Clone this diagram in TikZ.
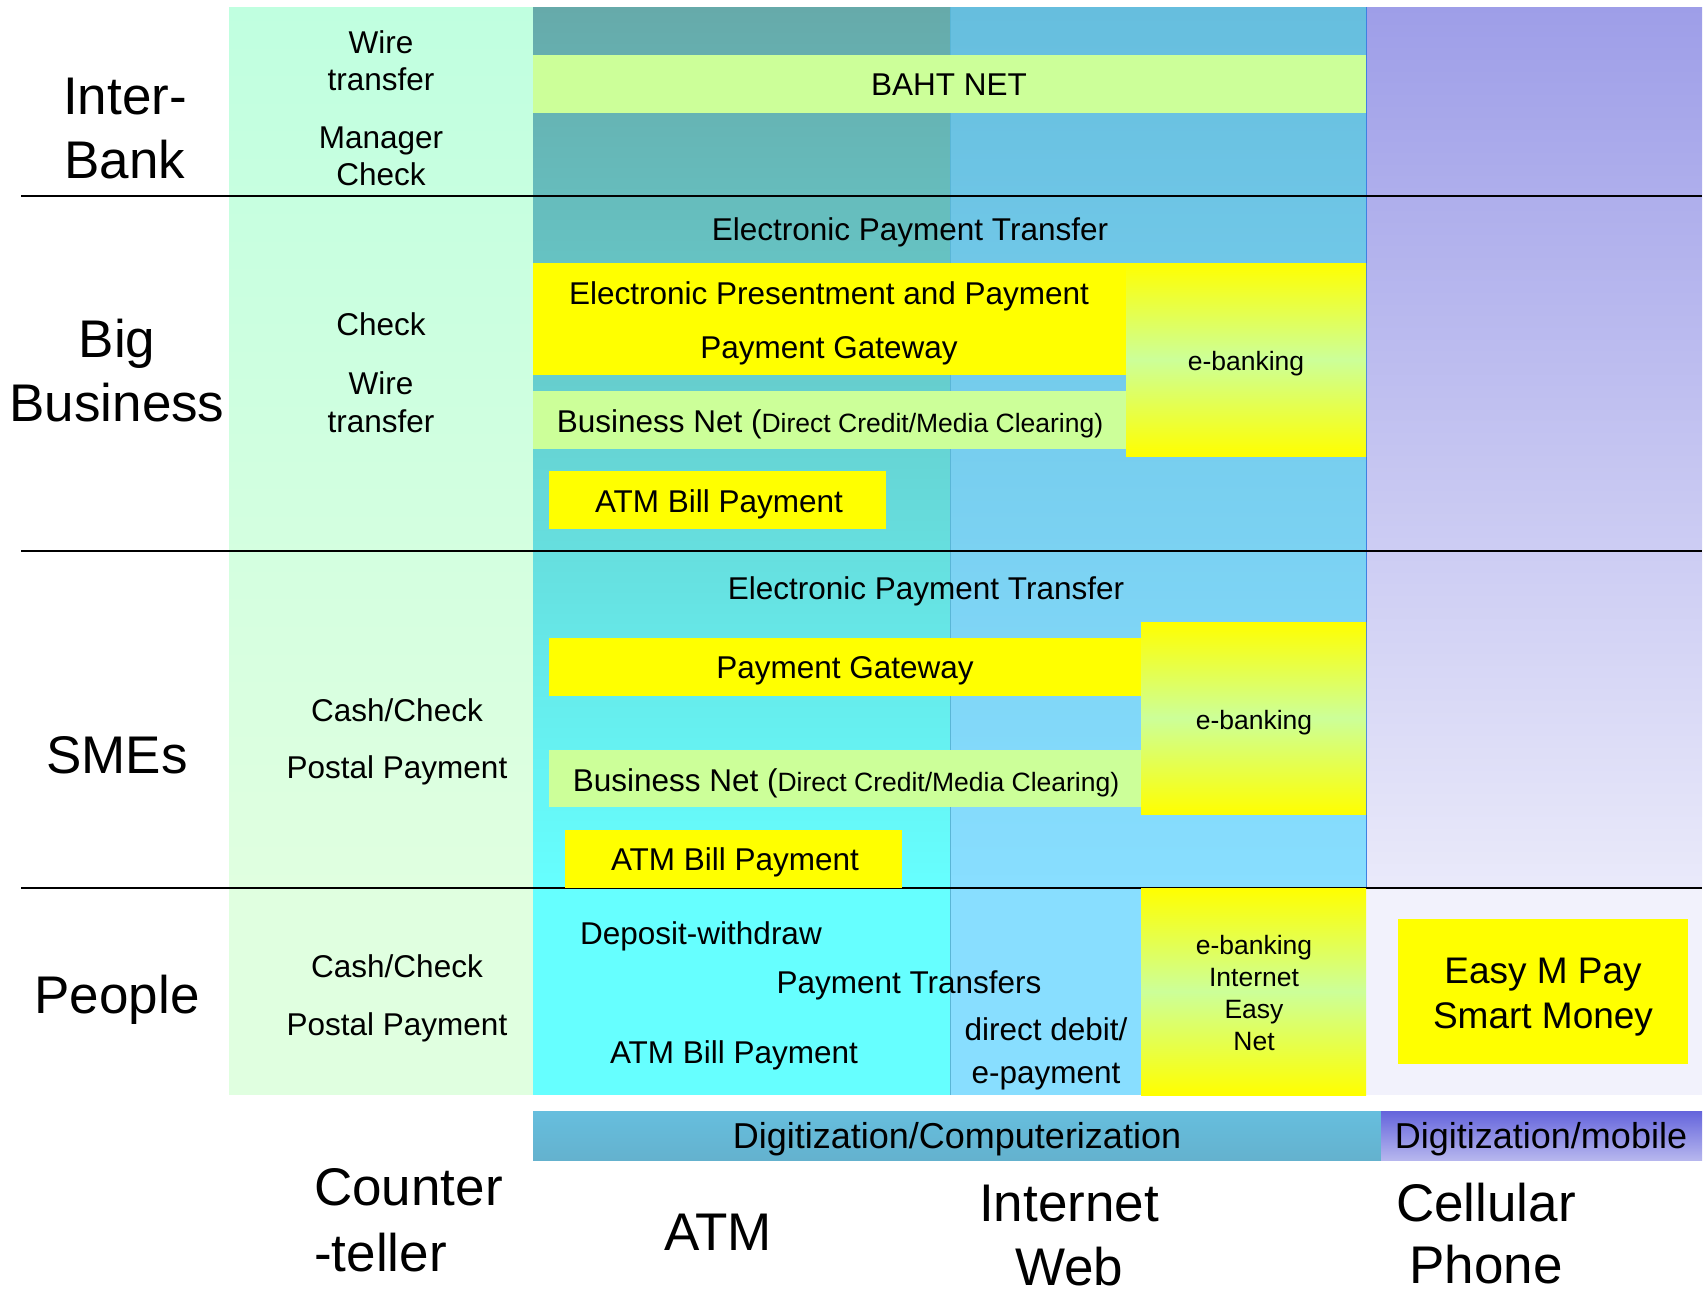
\documentclass[tikz,border=0pt]{standalone}
\usepackage{fontspec}
\setmainfont{Liberation Sans}
\definecolor{paleGreen}{HTML}{CCFF99}
\definecolor{boxYellow}{HTML}{FFFF00}
\definecolor{counterTop}{HTML}{C0FFE0}
\definecolor{counterBot}{HTML}{E0FFE0}
\definecolor{atmTop}{HTML}{66AAAA}
\definecolor{atmBot}{HTML}{66FFFF}
\definecolor{webTop}{HTML}{66BEDE}
\definecolor{webBot}{HTML}{88DEFF}
\definecolor{cellTop}{HTML}{9E9EE8}
\definecolor{cellBot}{HTML}{F2F2FC}
\definecolor{sepBlue}{HTML}{5AB6D6}
\definecolor{digiBot}{HTML}{64B2CE}
\definecolor{mobTop}{HTML}{6464DC}

\begin{document}
\begin{tikzpicture}[x=1pt,y=-1pt,
	every node/.style={inner sep=0pt, text depth=0pt},
	txt/.style={font=\fontsize{31.5}{38}\selectfont, text height=22.6pt},
	small/.style={font=\fontsize{26.5}{32}\selectfont, text height=19pt},
	head/.style={font=\fontsize{53}{64}\selectfont, text height=38pt},
	easy/.style={font=\fontsize{37}{44}\selectfont, text height=26.5pt},
	digi/.style={font=\fontsize{36}{43}\selectfont, text height=25.8pt},
	rowline/.style={line width=1.5pt, black},
	ebank/.style={top color=boxYellow, bottom color=boxYellow, middle color=paleGreen}]

	\useasboundingbox (0,0) rectangle (1708,1293);

	% channel columns
	\fill[top color=counterTop, bottom color=counterBot] (229,7) rectangle (533,888);
	\fill[counterBot] (229,888) rectangle (533,1095);
	\fill[top color=atmTop, bottom color=atmBot] (533,7) rectangle (950,888);
	\fill[atmBot] (533,888) rectangle (950,1095);
	\fill[top color=webTop, bottom color=webBot] (950,7) rectangle (1366,888);
	\fill[webBot] (950,888) rectangle (1366,1095);
	\fill[top color=cellTop, bottom color=cellBot!90!cellTop] (1366,7) rectangle (1702,888);
	\fill[cellBot] (1366,888) rectangle (1702,1095);
	\draw[sepBlue, line width=0.8pt] (950,7) -- (950,1095);
	\draw[sepBlue!70!blue, line width=0.6pt] (1366,7) -- (1366,888);

	% inter-bank
	\fill[paleGreen] (533,55) rectangle (1366,113);

	% row separators
	\draw[rowline] (21,196) -- (1702,196);
	\draw[rowline] (21,551) -- (1702,551);
	\draw[rowline] (21,888) -- (1702,888);

	% big business
	\fill[boxYellow] (533,263) rectangle (1126,375);
	\fill[ebank] (1126,263) rectangle (1366,456);
	\fill[paleGreen] (533,391) rectangle (1126,449);
	\fill[boxYellow] (549,471) rectangle (886,529);

	% SMEs
	\fill[boxYellow] (549,638) rectangle (1141,696);
	\fill[ebank] (1141,622) rectangle (1366,814);
	\fill[paleGreen] (549,750) rectangle (1141,807);
	\fill[boxYellow] (565,830) rectangle (902,888);

	% people
	\fill[ebank] (1141,888) rectangle (1366,1095);
	\fill[boxYellow] (1398,919) rectangle (1688,1064);

	% digitization bars
	\fill[top color=webTop, bottom color=digiBot] (533,1111) rectangle (1381,1160);
	\fill[top color=mobTop, middle color=cellTop!85!white, bottom color=cellTop!75!white] (1381,1111) rectangle (1702,1160);

	% row labels
	\node[head] (inter) at (125,95) {Inter-};
	\node[head] (bank) at (125,159) {Bank};
	\node[head] (big) at (117,338) {Big};
	\node[head] (business) at (117,402) {Business};
	\node[head] (smes) at (117,754) {SMEs};
	\node[head] (people) at (117,994) {People};

	% counter column
	\node[txt] (wire1) at (381,42) {Wire};
	\node[txt] (transfer1) at (381,79) {transfer};
	\node[txt] (manager) at (381,137) {Manager};
	\node[txt] (check1) at (381,174) {Check};
	\node[txt] (check2) at (381,324) {Check};
	\node[txt] (wire2) at (381,383) {Wire};
	\node[txt] (transfer2) at (381,421) {transfer};
	\node[txt] (cash1) at (397,710) {Cash/Check};
	\node[txt] (postal1) at (397,767) {Postal Payment};
	\node[txt] (cash2) at (397,966) {Cash/Check};
	\node[txt] (postal2) at (397,1024) {Postal Payment};

	% inter-bank, big business
	\node[txt] (bahtnet) at (949,84) {BAHT NET};
	\node[txt] (ept1) at (910,229) {Electronic Payment Transfer};
	\node[txt] (epp) at (829,293) {Electronic Presentment and Payment};
	\node[txt] (gate1) at (829,347) {Payment Gateway};
	\node[small] (ebank1) at (1246,361) {e-banking};
	\node[txt] (bnet1) at (830,421) {Business Net ({\fontsize{26.5}{32}\selectfont Direct Credit/Media Clearing)}};
	\node[txt] (bill1) at (719,501) {ATM Bill Payment};

	% SMEs
	\node[txt] (ept2) at (926,588) {Electronic Payment Transfer};
	\node[txt] (gate2) at (845,667) {Payment Gateway};
	\node[small] (ebank2) at (1254,720) {e-banking};
	\node[txt] (bnet2) at (846,780) {Business Net ({\fontsize{26.5}{32}\selectfont Direct Credit/Media Clearing)}};
	\node[txt] (bill2) at (735,859) {ATM Bill Payment};

	% people
	\node[txt] (deposit) at (701,933) {Deposit-withdraw};
	\node[txt] (ptrans) at (909,982) {Payment Transfers};
	\node[txt] (bill3) at (734,1052) {ATM Bill Payment};
	\node[txt] (debit) at (1046,1029) {direct debit/};
	\node[txt] (epay) at (1046,1072) {e-payment};
	\node[small] (ebank3) at (1254,945) {e-banking};
	\node[small] (internet1) at (1254,977) {Internet};
	\node[small] (easy1) at (1254,1009) {Easy};
	\node[small] (net1) at (1254,1041) {Net};
	\node[easy] (mpay) at (1543,970) {Easy M Pay};
	\node[easy] (smart) at (1543,1015) {Smart Money};

	% bottom axis
	\node[digi] (digcomp) at (957,1136) {Digitization/Computerization};
	\node[digi] (digmob) at (1541,1136) {Digitization/mobile};
	\node[head, anchor=west] (counter) at (314,1186) {Counter};
	\node[head, anchor=west] (teller) at (314,1252) {-teller};
	\node[head] (atm) at (718,1231) {ATM};
	\node[head] (internet2) at (1069,1202) {Internet};
	\node[head] (web) at (1069,1266) {Web};
	\node[head] (cellular) at (1486,1202) {Cellular};
	\node[head] (phone) at (1486,1264) {Phone};
\end{tikzpicture}
\end{document}
